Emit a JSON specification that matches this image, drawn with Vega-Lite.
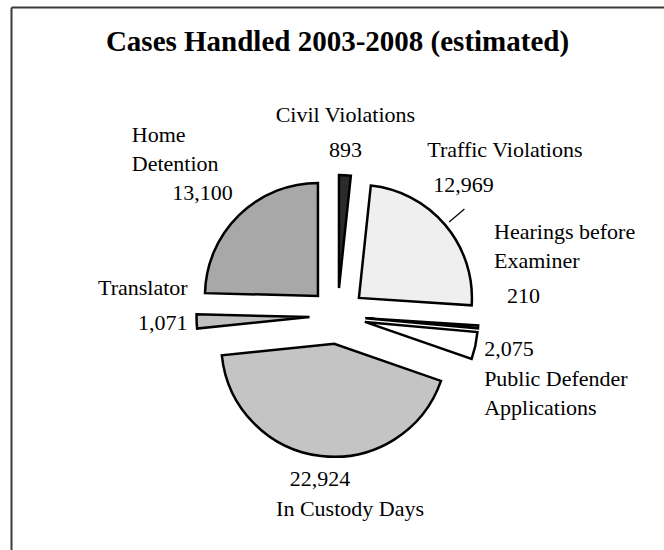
{
  "$schema": "https://vega.github.io/schema/vega-lite/v6.json",
  "width": 653,
  "height": 543,
  "autosize": {"type": "none"},
  "padding": {"left": 11, "top": 7, "right": 0, "bottom": 0},
  "background": "white",
  "config": {
    "view": {"stroke": null}
  },
  "title": {
    "text": "Cases Handled 2003-2008 (estimated)",
    "font": "Liberation Serif, Times New Roman, Times, serif",
    "fontSize": 29,
    "fontWeight": "bold",
    "color": "black",
    "anchor": "middle",
    "baseline": "alphabetic",
    "offset": -46,
    "dy": 27
  },
  "data": {
    "values": [
      {"cat": "Civil Violations", "name": "Civil Violations", "value": 893},
      {"cat": "Traffic Violations", "name": "Traffic Violations", "value": 12969},
      {"cat": "Hearings before Examiner", "name": "Hearings before\nExaminer", "value": 210},
      {"cat": "Public Defender Applications", "name": "Public Defender\nApplications", "value": 2075},
      {"cat": "In Custody Days", "name": "In Custody Days", "value": 22924},
      {"cat": "Translator", "name": "Translator", "value": 1071},
      {"cat": "Home Detention", "name": "Home\nDetention", "value": 13100}
    ]
  },
  "transform": [
    {"joinaggregate": [{"op": "sum", "field": "value", "as": "total"}]},
    {"window": [{"op": "sum", "field": "value", "as": "cum"}], "frame": [null, 0]},
    {"calculate": "2*PI*(datum.cum - datum.value)/datum.total", "as": "a0"},
    {"calculate": "2*PI*datum.cum/datum.total", "as": "a1"},
    {"calculate": "(datum.a0 + datum.a1)/2", "as": "mid"}
  ],
  "layer": [
    {
      "mark": {"type": "point", "opacity": 0},
      "encoding": {
        "x": {
          "field": "value", "type": "quantitative",
          "axis": {"orient": "top", "domain": true, "domainColor": "#3a3a3a", "domainWidth": 2, "ticks": false, "labels": false, "grid": false, "title": null}
        },
        "y": {
          "field": "value", "type": "quantitative",
          "axis": {"orient": "left", "domain": true, "domainColor": "#3a3a3a", "domainWidth": 2, "ticks": false, "labels": false, "grid": false, "title": null}
        }
      }
    },
    {
      "mark": {
        "type": "arc",
        "outerRadius": 113,
        "stroke": "black",
        "strokeWidth": 2.5,
        "strokeJoin": "miter",
        "xOffset": {"expr": "28*sin(datum.mid)"},
        "yOffset": {"expr": "37.5 - 28*cos(datum.mid)"}
      },
      "encoding": {
        "theta": {"field": "a0", "type": "quantitative", "scale": null, "stack": null},
        "theta2": {"field": "a1"},
        "fill": {
          "field": "cat",
          "type": "nominal",
          "legend": null,
          "scale": {
            "domain": ["Civil Violations", "Traffic Violations", "Hearings before Examiner", "Public Defender Applications", "In Custody Days", "Translator", "Home Detention"],
            "range": ["#2b2b2b", "#efefef", "#ffffff", "#ffffff", "#c4c4c4", "#c0c0c0", "#a8a8a8"]
          }
        }
      }
    },
    {
      "transform": [{"filter": "datum.cat === 'Traffic Violations'"}],
      "mark": {
        "type": "arc",
        "innerRadius": 146,
        "outerRadius": 166,
        "stroke": "black",
        "strokeWidth": 1.2,
        "fill": null,
        "yOffset": 37.5
      },
      "encoding": {
        "theta": {"field": "mid", "type": "quantitative", "scale": null, "stack": null},
        "theta2": {"field": "mid"}
      }
    },
    {
      "mark": {
        "type": "text",
        "font": "Liberation Serif, Times New Roman, Times, serif",
        "fontSize": 22,
        "color": "black",
        "baseline": "alphabetic",
        "align": {"expr": "sin(datum.mid) > 0.3 ? 'left' : (sin(datum.mid) < -0.3 ? 'right' : 'center')"},
        "yOffset": 37.5,
        "dx": {"expr": "datum.cat === 'Traffic Violations' ? -19 : (datum.cat === 'Hearings before Examiner' ? 20 : 0)"},
        "dy": {"expr": "(cos(datum.mid) > 0.3 ? -9 : (cos(datum.mid) < -0.3 ? 21 : 8.5)) + (datum.cat === 'Traffic Violations' ? -18 : (datum.cat === 'Hearings before Examiner' ? -33 : 0))"}
      },
      "encoding": {
        "theta": {"field": "mid", "type": "quantitative", "scale": null, "stack": null},
        "radius": {"value": 150},
        "text": {"field": "value", "type": "quantitative", "format": ","}
      }
    },
    {
      "mark": {
        "type": "text",
        "font": "Liberation Serif, Times New Roman, Times, serif",
        "fontSize": 22,
        "color": "black",
        "baseline": "alphabetic",
        "lineBreak": "\n",
        "lineHeight": 29,
        "align": {"expr": "datum.cat === 'Home Detention' ? 'left' : (sin(datum.mid) > 0.3 ? 'left' : (sin(datum.mid) < -0.3 ? 'right' : 'center'))"},
        "yOffset": 37.5,
        "dx": {"expr": "datum.cat === 'Traffic Violations' ? -25 : (datum.cat === 'Hearings before Examiner' ? 7 : (datum.cat === 'In Custody Days' ? 30 : (datum.cat === 'Home Detention' ? -101 : 0)))"},
        "dy": {"expr": "(cos(datum.mid) > 0.3 ? -9 : (cos(datum.mid) < -0.3 ? 21 : 8.5)) + (datum.cat === 'Traffic Violations' ? -18 : (datum.cat === 'Hearings before Examiner' ? -33 : (datum.cat === 'Home Detention' ? 6 : 0))) + (cos(datum.mid) < -0.15 ? 30 : (-35 - 29*(length(split(datum.name, '\\n')) - 1)))"}
      },
      "encoding": {
        "theta": {"field": "mid", "type": "quantitative", "scale": null, "stack": null},
        "radius": {"value": 150},
        "text": {"field": "name", "type": "nominal"}
      }
    }
  ]
}
